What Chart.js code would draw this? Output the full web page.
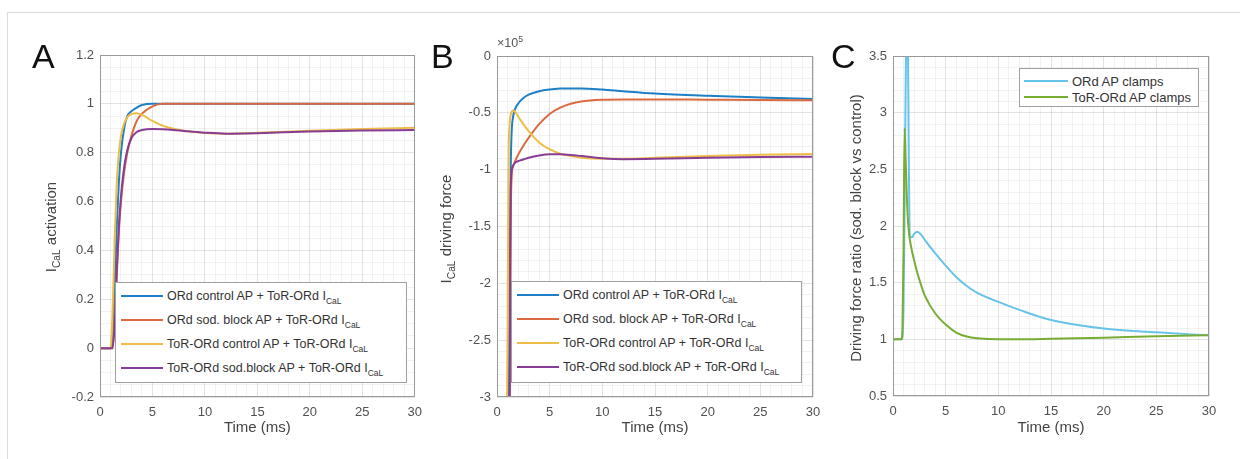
<!DOCTYPE html>
<html><head><meta charset="utf-8">
<script src="https://cdn.jsdelivr.net/npm/chart.js@4"></script>
<style>
body{margin:0;background:#fff;}
#wrap{position:relative;width:1240px;height:459px;overflow:hidden;font-family:"Liberation Sans",Arial,sans-serif;background:#fff;}
canvas{position:absolute;top:0;}
.frame{position:absolute;left:7px;top:12px;width:1300px;height:500px;border:1px solid #dcdcdc;}
.letter{position:absolute;font-size:34px;color:#111;line-height:1;}
.ytitle{position:absolute;white-space:nowrap;font-size:15px;color:#444;transform:translate(-50%,-50%) rotate(-90deg);}
.legend{position:absolute;background:#fff;border:1px solid #a0a0a0;box-sizing:border-box;}
.row{position:absolute;height:20px;display:flex;align-items:center;white-space:nowrap;color:#333;}
.sw{display:inline-block;height:2.5px;margin-right:4px;flex:none;}
sub{font-size:0.68em;vertical-align:-0.45em;line-height:0;}
sup{font-size:0.7em;vertical-align:0.55em;line-height:0;}
.expo{position:absolute;font-size:12.5px;color:#555;}
</style>
</head><body>
<div id="wrap">
  <div class="frame"></div>
  <canvas id="cA" width="430" height="459" style="left:0px;width:430px;height:459px"></canvas>
  <canvas id="cB" width="400" height="459" style="left:430px;width:400px;height:459px"></canvas>
  <canvas id="cC" width="410" height="459" style="left:830px;width:410px;height:459px"></canvas>
</div>
<script>
// ---------- DATA ----------
const panelLetters = ['A', 'B', 'C'];
const xTicks = [0, 5, 10, 15, 20, 25, 30];

// Panel A: I_CaL activation
const tA = [0, 1.0, 1.2, 1.4, 1.6, 1.8, 2.0, 2.3, 2.6, 3, 3.5, 4, 5, 6, 7, 8, 10, 12, 15, 20, 25, 30];
const actORdCtrl  = [0, 0, 0.02, 0.25, 0.5, 0.68, 0.8, 0.9, 0.95, 0.97, 0.985, 0.995, 1.0, 1, 1, 1, 1, 1, 1, 1, 1, 1];
const actORdBlock = [0, 0, 0, 0.12, 0.3, 0.48, 0.6, 0.72, 0.8, 0.87, 0.93, 0.96, 0.99, 1.0, 1, 1, 1, 1, 1, 1, 1, 1];
const actToRCtrl  = [0, 0, 0.15, 0.45, 0.68, 0.8, 0.87, 0.92, 0.945, 0.958, 0.962, 0.955, 0.93, 0.91, 0.898, 0.89, 0.881, 0.878, 0.882, 0.89, 0.897, 0.902];
const actToRBlock = [0, 0, 0, 0.1, 0.32, 0.5, 0.62, 0.74, 0.81, 0.86, 0.885, 0.893, 0.897, 0.896, 0.893, 0.889, 0.882, 0.878, 0.88, 0.887, 0.891, 0.893];
const aYTicks = [-0.2, 0, 0.2, 0.4, 0.6, 0.8, 1, 1.2];

// Panel B: I_CaL driving force (x 10^5)
const tB = [0, 0.8, 1.0, 1.1, 1.2, 1.3, 1.4, 1.5, 1.7, 2.0, 2.5, 3, 4, 5, 6, 7, 8, 10, 12, 15, 20, 25, 30];
const dfORdCtrl  = [-4, -4, -4, -3.5, -2.0, -1.0, -0.65, -0.55, -0.47, -0.42, -0.37, -0.34, -0.31, -0.295, -0.287, -0.285, -0.285, -0.295, -0.31, -0.33, -0.35, -0.365, -0.378];
const dfORdBlock = [-4, -4, -4, -4, -3.5, -1.5, -1.05, -0.98, -0.93, -0.87, -0.79, -0.72, -0.60, -0.51, -0.455, -0.42, -0.40, -0.385, -0.382, -0.382, -0.385, -0.388, -0.39];
const dfToRCtrl  = [-4, -4, -2.5, -0.9, -0.6, -0.52, -0.49, -0.48, -0.49, -0.53, -0.6, -0.66, -0.76, -0.82, -0.86, -0.88, -0.895, -0.905, -0.905, -0.895, -0.88, -0.868, -0.862];
const dfToRBlock = [-4, -4, -4, -4, -3.0, -1.2, -1.0, -0.97, -0.94, -0.925, -0.91, -0.895, -0.875, -0.865, -0.865, -0.87, -0.88, -0.9, -0.908, -0.905, -0.895, -0.888, -0.886];
const bYTicks = [-3, -2.5, -2, -1.5, -1, -0.5, 0];

// Panel C: driving force ratio
const tC = [0, 0.8, 0.9, 1.0, 1.1, 1.2, 1.3, 1.4, 1.5, 1.6, 1.8, 2.0, 2.3, 2.7, 3, 4, 5, 6, 7, 8, 10, 12, 15, 20, 25, 30];
const ratioORd = [1, 1, 1.02, 1.3, 2.2, 3.2, 4.0, 3.8, 2.6, 1.9, 1.9, 1.93, 1.95, 1.92, 1.88, 1.76, 1.65, 1.55, 1.47, 1.41, 1.33, 1.26, 1.17, 1.095, 1.062, 1.035];
const ratioToR = [1, 1, 1.1, 1.8, 2.86, 2.6, 2.3, 2.08, 1.96, 1.88, 1.78, 1.70, 1.59, 1.47, 1.39, 1.23, 1.13, 1.06, 1.025, 1.01, 1.0, 1.0, 1.005, 1.015, 1.028, 1.035];
const cYTicks = [0.5, 1, 1.5, 2, 2.5, 3, 3.5];

const seriesNamesAB = ['ORd control AP + ToR-ORd I', 'ORd sod. block AP + ToR-ORd I', 'ToR-ORd control AP + ToR-ORd I', 'ToR-ORd sod.block AP + ToR-ORd I'];
const seriesSub = 'CaL';
const seriesNamesC = ['ORd AP clamps', 'ToR-ORd AP clamps'];
const colorsAB = ['#1f7fc6', '#dc6a40', '#eebd45', '#873d95'];
const colorsC = ['#68c3ea', '#78ad35'];

// ---------- HELPERS ----------
const FONT = '"Liberation Sans", Arial, sans-serif';
function near(v, arr) { return arr.some(a => Math.abs(a - v) < 1e-6); }
function fmt(v) { return String(+v.toFixed(3)); }
const boxPlugin = {
  id: 'box',
  afterDatasetsDraw(chart) {
    const {ctx, chartArea: a} = chart;
    ctx.save();
    ctx.strokeStyle = '#9a9a9a';
    ctx.lineWidth = 1;
    ctx.strokeRect(Math.round(a.left) + 0.5, Math.round(a.top) + 0.5, Math.round(a.right - a.left) - 1, Math.round(a.bottom - a.top) - 1);
    ctx.restore();
  }
};
function makeChart(id, times, seriesList, colors, yMin, yMax, yMinor, yTicks, geom) {
  const datasets = seriesList.map((vals, i) => ({
    data: times.map((t, k) => ({x: t, y: vals[k]})),
    borderColor: colors[i],
    borderWidth: 2,
    pointRadius: 0,
    fill: false,
    cubicInterpolationMode: 'monotone',
    order: seriesList.length - i
  }));
  return new Chart(document.getElementById(id), {
    type: 'line',
    data: {datasets},
    plugins: [boxPlugin],
    options: {
      responsive: false,
      animation: false,
      devicePixelRatio: 1,
      layout: {padding: {top: geom.top, right: geom.right, left: 0, bottom: 0}},
      plugins: {legend: {display: false}, tooltip: {enabled: false}},
      scales: {
        x: {
          type: 'linear', min: 0, max: 30,
          afterFit(s) { s.height = geom.xh; },
          border: {display: false},
          grid: {drawTicks: false, color: c => near(c.tick.value, xTicks) ? 'rgba(0,0,0,0.11)' : 'rgba(0,0,0,0.05)'},
          ticks: {stepSize: 1, autoSkip: false, maxRotation: 0, maxTicksLimit: 100, padding: 8, color: '#505050',
                  font: {family: FONT, size: 13},
                  callback: v => near(v, xTicks) ? fmt(v) : ''},
          title: {display: true, text: 'Time (ms)', color: '#444', font: {family: FONT, size: 15}, padding: {top: 0, bottom: 22}}
        },
        y: {
          type: 'linear', min: yMin, max: yMax,
          afterFit(s) { s.width = geom.yw; },
          border: {display: false},
          grid: {drawTicks: false, color: c => near(c.tick.value, yTicks) ? 'rgba(0,0,0,0.11)' : 'rgba(0,0,0,0.05)'},
          ticks: {stepSize: yMinor, autoSkip: false, maxTicksLimit: 100, padding: 6, color: '#505050',
                  font: {family: FONT, size: 13},
                  callback: v => near(v, yTicks) ? fmt(v) : ''}
        }
      }
    }
  });
}

makeChart('cA', tA, [actORdCtrl, actORdBlock, actToRCtrl, actToRBlock], colorsAB, -0.2, 1.2, 0.05, aYTicks, {top: 55, right: 12, yw: 100, xh: 62});
makeChart('cB', tB, [dfORdCtrl, dfORdBlock, dfToRCtrl, dfToRBlock], colorsAB, -3, 0, 0.1, bYTicks, {top: 56, right: 17, yw: 67, xh: 62});
makeChart('cC', tC, [ratioORd, ratioToR], colorsC, 0.5, 3.5, 0.1, cYTicks, {top: 56, right: 31, yw: 63, xh: 63});

// ---------- HTML TEXT OVERLAYS ----------
const wrap = document.getElementById('wrap');
function add(html, cls, style) {
  const d = document.createElement('div');
  d.className = cls; d.innerHTML = html;
  Object.assign(d.style, style); wrap.appendChild(d); return d;
}
[32, 431, 831].forEach((x, i) => add(panelLetters[i], 'letter', {left: x + 'px', top: '39px'}));
add('I<sub>CaL</sub> activation', 'ytitle', {left: '50px', top: '227px'});
add('I<sub>CaL</sub> driving force', 'ytitle', {left: '445px', top: '229px'});
add('Driving force ratio (sod. block vs control)', 'ytitle', {left: '855px', top: '228px'});
add('&times;10<sup>5</sup>', 'expo', {left: '497px', top: '36px'});

function legend(left, top, w, h, names, colors, sub, rows, swL, swW, textSize) {
  const lg = add('', 'legend', {left: left + 'px', top: top + 'px', width: w + 'px', height: h + 'px'});
  names.forEach((n, i) => {
    const r = document.createElement('div');
    r.className = 'row';
    Object.assign(r.style, {left: swL + 'px', top: (rows[i] - top - 10) + 'px', fontSize: textSize + 'px'});
    r.innerHTML = '<span class="sw" style="width:' + swW + 'px;background:' + colors[i] + '"></span><span>' + n + (sub ? '<sub>' + sub + '</sub>' : '') + '</span>';
    lg.appendChild(r);
  });
}
legend(115, 282, 292, 101, seriesNamesAB, colorsAB, seriesSub, [295, 319, 343, 367], 5, 42, 12.5);
legend(511, 281, 291, 102, seriesNamesAB, colorsAB, seriesSub, [294, 318, 342, 366], 5, 42, 12.5);
legend(1019, 68, 180, 39, seriesNamesC, colorsC, '', [80, 96], 4, 44, 13);
</script>
</body></html>
